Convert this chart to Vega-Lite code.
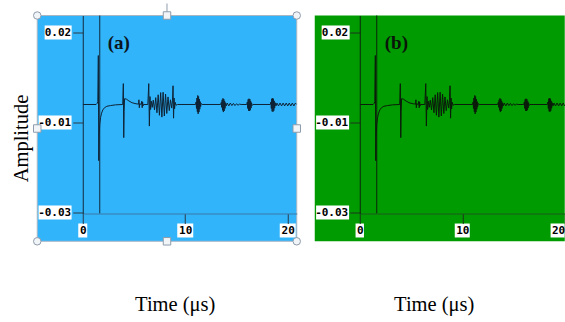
{
  "$schema": "https://vega.github.io/schema/vega-lite/v6.json",
  "background": "white",
  "padding": {"left": 11.75, "top": 2.5, "right": 0, "bottom": 0},
  "spacing": 63,
  "bounds": "flush",
  "config": {"view": {"stroke": null}},
  "datasets": {
    "wave": [
      {"t": 0, "amp": 0}, {"t": 1.3, "amp": 0}, {"t": 1.4, "amp": 0.0003}, {"t": 1.47, "amp": 0.0008},
      {"t": 1.52, "amp": 0.0136}, {"t": 1.56, "amp": -0.0156}, {"t": 1.6, "amp": -0.0085}, {"t": 1.66, "amp": -0.0055},
      {"t": 1.74, "amp": -0.0036}, {"t": 1.84, "amp": -0.0024}, {"t": 1.96, "amp": -0.0015}, {"t": 2.12, "amp": -0.0009},
      {"t": 2.35, "amp": -0.0005}, {"t": 2.7, "amp": -0.0003}, {"t": 3.2, "amp": -0.0001}, {"t": 3.9, "amp": 0},
      {"t": 3.96, "amp": 0.0058}, {"t": 4.0, "amp": -0.0092}, {"t": 4.04, "amp": -0.002}, {"t": 4.08, "amp": 0.0016},
      {"t": 4.25, "amp": 0.0015}, {"t": 4.5, "amp": 0.001}, {"t": 4.8, "amp": 0.0005}, {"t": 5.2, "amp": 0.0002},
      {"t": 5.45, "amp": 0.0001}, {"t": 5.48, "amp": 0.0013}, {"t": 5.52, "amp": -0.0009}, {"t": 5.56, "amp": 0.0002},
      {"t": 5.7, "amp": 0}, {"t": 5.76, "amp": 0.0009}, {"t": 5.8, "amp": -0.0009}, {"t": 5.84, "amp": 0.0007},
      {"t": 5.88, "amp": -0.0004}, {"t": 5.94, "amp": 0}, {"t": 6.35, "amp": 0}, {"t": 6.44, "amp": 0.0058},
      {"t": 6.5, "amp": -0.006}, {"t": 6.56, "amp": 0.0022}, {"t": 6.62, "amp": -0.0014}, {"t": 6.7, "amp": 0.0009},
      {"t": 6.78, "amp": -0.0008}, {"t": 6.88, "amp": 0.0012}, {"t": 7.0, "amp": -0.0015}, {"t": 7.12, "amp": 0.0019},
      {"t": 7.24, "amp": -0.0023}, {"t": 7.36, "amp": 0.0027}, {"t": 7.48, "amp": -0.003}, {"t": 7.6, "amp": 0.0033},
      {"t": 7.72, "amp": -0.0035}, {"t": 7.84, "amp": 0.0034}, {"t": 7.96, "amp": -0.0032}, {"t": 8.08, "amp": 0.0029},
      {"t": 8.2, "amp": -0.0025}, {"t": 8.32, "amp": 0.0021}, {"t": 8.44, "amp": -0.0017}, {"t": 8.56, "amp": 0.0013},
      {"t": 8.68, "amp": -0.001}, {"t": 8.76, "amp": 0.0012}, {"t": 8.81, "amp": 0.0052}, {"t": 8.86, "amp": -0.0038},
      {"t": 8.91, "amp": 0.0018}, {"t": 8.96, "amp": -0.0012}, {"t": 9.02, "amp": 0.0006}, {"t": 9.1, "amp": -0.0002},
      {"t": 9.25, "amp": 0},
      {"t": 11.0, "amp": 0}, {"t": 11.06, "amp": 0.0007}, {"t": 11.1, "amp": -0.0011}, {"t": 11.14, "amp": 0.0018},
      {"t": 11.18, "amp": -0.002}, {"t": 11.22, "amp": 0.0025}, {"t": 11.26, "amp": -0.0026}, {"t": 11.3, "amp": 0.0022},
      {"t": 11.34, "amp": -0.0021}, {"t": 11.38, "amp": 0.0015}, {"t": 11.42, "amp": -0.0013}, {"t": 11.46, "amp": 0.0008},
      {"t": 11.5, "amp": -0.0006}, {"t": 11.56, "amp": 0.0003}, {"t": 11.65, "amp": 0},
      {"t": 13.45, "amp": 0}, {"t": 13.52, "amp": 0.0006}, {"t": 13.56, "amp": -0.0008}, {"t": 13.6, "amp": 0.0013},
      {"t": 13.64, "amp": -0.0016}, {"t": 13.68, "amp": 0.0017}, {"t": 13.72, "amp": -0.0021}, {"t": 13.76, "amp": 0.0015},
      {"t": 13.8, "amp": -0.0018}, {"t": 13.84, "amp": 0.001}, {"t": 13.88, "amp": -0.0011}, {"t": 13.94, "amp": 0.0005},
      {"t": 14.0, "amp": -0.0004}, {"t": 14.1, "amp": 0.0004}, {"t": 14.25, "amp": -0.0004}, {"t": 14.4, "amp": 0.0004},
      {"t": 14.55, "amp": -0.0003}, {"t": 14.7, "amp": 0.0003}, {"t": 14.85, "amp": -0.0003}, {"t": 15.0, "amp": 0.0002},
      {"t": 15.15, "amp": -0.0002}, {"t": 15.3, "amp": 0.0001}, {"t": 15.45, "amp": 0},
      {"t": 16.0, "amp": 0}, {"t": 16.06, "amp": 0.0007}, {"t": 16.1, "amp": -0.0011}, {"t": 16.14, "amp": 0.0014},
      {"t": 16.18, "amp": -0.0017}, {"t": 16.22, "amp": 0.0016}, {"t": 16.26, "amp": -0.0018}, {"t": 16.3, "amp": 0.0015},
      {"t": 16.34, "amp": -0.0016}, {"t": 16.38, "amp": 0.001}, {"t": 16.42, "amp": -0.001}, {"t": 16.47, "amp": 0.0005},
      {"t": 16.52, "amp": -0.0003}, {"t": 16.6, "amp": 0},
      {"t": 18.3, "amp": 0}, {"t": 18.36, "amp": 0.0007}, {"t": 18.4, "amp": -0.0011}, {"t": 18.44, "amp": 0.0016},
      {"t": 18.48, "amp": -0.0019}, {"t": 18.52, "amp": 0.0017}, {"t": 18.56, "amp": -0.002}, {"t": 18.6, "amp": 0.0016},
      {"t": 18.64, "amp": -0.0017}, {"t": 18.68, "amp": 0.001}, {"t": 18.72, "amp": -0.001}, {"t": 18.78, "amp": 0.0005},
      {"t": 18.85, "amp": -0.0004}, {"t": 18.95, "amp": 0.0004}, {"t": 19.1, "amp": -0.0004}, {"t": 19.25, "amp": 0.0004},
      {"t": 19.4, "amp": -0.0004}, {"t": 19.55, "amp": 0.0004}, {"t": 19.7, "amp": -0.0004}, {"t": 19.85, "amp": 0.0004},
      {"t": 20.0, "amp": -0.0004}, {"t": 20.15, "amp": 0.0004}, {"t": 20.3, "amp": -0.0004}, {"t": 20.45, "amp": 0.0004},
      {"t": 20.6, "amp": -0.0004}, {"t": 20.75, "amp": 0.0004}, {"t": 20.88, "amp": 0}
    ],
    "one": [{}],
    "yticks": [{"v": 0.02}, {"v": -0.005}, {"v": -0.03}],
    "xticks": [{"t": 0}, {"t": 10}, {"t": 20}],
    "handles": [
      {"hx": -4.44, "hy": 0.02472, "kind": "circle"}, {"hx": 20.88, "hy": 0.02472, "kind": "circle"},
      {"hx": -4.44, "hy": -0.038, "kind": "circle"}, {"hx": 20.88, "hy": -0.038, "kind": "circle"},
      {"hx": 8.22, "hy": 0.02472, "kind": "square"}, {"hx": 8.22, "hy": -0.038, "kind": "square"},
      {"hx": -4.44, "hy": -0.00667, "kind": "square"}, {"hx": 20.88, "hy": -0.00667, "kind": "square"}
    ]
  },
  "hconcat": [
    {
      "width": 214,
      "height": 198,
      "layer": [
        {
          "data": {"name": "one"},
          "mark": {"type": "rect", "color": "#32b4fa", "stroke": "#a9b6c2", "strokeWidth": 1, "clip": false},
          "encoding": {
            "x": {"datum": -4.44, "type": "quantitative"},
            "x2": {"datum": 20.88},
            "y": {"datum": -0.038, "type": "quantitative"},
            "y2": {"datum": 0.02472}
          }
        },
        {
          "data": {"name": "yticks"},
          "transform": [{"filter": "datum.v < 0"}],
          "mark": {"type": "point", "shape": "M-1,-0.424H1V0.424H-1Z", "size": 1089, "filled": true, "color": "#ffffff", "opacity": 1, "clip": false},
          "encoding": {"x": {"datum": -2.7, "type": "quantitative"}, "y": {"field": "v", "type": "quantitative", "title": "Amplitude"}}
        },
        {
          "data": {"name": "yticks"},
          "transform": [{"filter": "datum.v > 0"}],
          "mark": {"type": "point", "shape": "M-1,-0.519H1V0.519H-1Z", "size": 729, "filled": true, "color": "#ffffff", "opacity": 1, "clip": false},
          "encoding": {"x": {"datum": -2.4, "type": "quantitative"}, "y": {"field": "v", "type": "quantitative", "title": "Amplitude"}}
        },
        {
          "data": {"name": "xticks"},
          "transform": [{"filter": "datum.t == 0"}],
          "mark": {"type": "point", "shape": "M-0.643,-1H0.643V1H-0.643Z", "size": 196, "filled": true, "color": "#ffffff", "opacity": 1, "clip": false},
          "encoding": {"x": {"field": "t", "type": "quantitative", "title": "Time (μs)"}, "y": {"datum": -0.035, "type": "quantitative"}}
        },
        {
          "data": {"name": "xticks"},
          "transform": [{"filter": "datum.t > 0"}],
          "mark": {"type": "point", "shape": "M-1,-0.875H1V0.875H-1Z", "size": 256, "filled": true, "color": "#ffffff", "opacity": 1, "clip": false},
          "encoding": {"x": {"field": "t", "type": "quantitative", "title": "Time (μs)"}, "y": {"datum": -0.035, "type": "quantitative"}}
        },
        {
          "data": {"name": "one"},
          "mark": {"type": "rule", "color": "#12293b", "strokeWidth": 1},
          "encoding": {"x": {"datum": 1.66, "type": "quantitative"}}
        },
        {
          "data": {"name": "wave"},
          "mark": {"type": "line", "color": "#0f2335", "strokeWidth": 1, "clip": true},
          "encoding": {
            "x": {
              "field": "t", "type": "quantitative", "title": "Time (μs)",
              "scale": {"domain": [0, 20.88], "nice": false, "zero": false},
              "axis": {
                "values": [0, 10, 20], "format": "d", "labelFlush": false,
                "tickSize": 10, "labelPadding": 7, "labelBaseline": "middle",
                "labelFont": "DejaVu Sans Mono", "labelFontSize": 11, "labelFontWeight": "bold", "labelColor": "#000000",
                "tickColor": "#2a3a48", "domainColor": "#3a79a5", "grid": false,
                "title": "Time (μs)", "titleFont": "Liberation Serif", "titleFontSize": 20.5, "titleFontWeight": "normal",
                "titleColor": "#000000", "titleX": 92, "titleY": 91, "titleBaseline": "middle", "titleAlign": "center",
                "zindex": 1
              }
            },
            "y": {
              "field": "amp", "type": "quantitative", "title": "Amplitude",
              "scale": {"domain": [-0.03028, 0.02472], "nice": false, "zero": false},
              "axis": {
                "values": [0.02, -0.005, -0.03],
                "labelExpr": "replace(format(datum.value, '.2f'), '\u2212', '-')",
                "tickSize": 10, "labelPadding": 2,
                "labelFont": "DejaVu Sans Mono", "labelFontSize": 11, "labelFontWeight": "bold", "labelColor": "#000000",
                "tickColor": "#2a3a48", "domainColor": "#15293a", "grid": false,
                "title": "Amplitude", "titleFont": "Liberation Serif", "titleFontSize": 20.5, "titleFontWeight": "normal",
                "titleColor": "#000000", "titleX": -61, "titleY": 122.5, "titleBaseline": "middle", "titleAlign": "center", "titleAngle": 270,
                "zindex": 1
              }
            }
          }
        },
        {
          "data": {"name": "one"},
          "mark": {"type": "text", "text": "(a)", "font": "Liberation Serif", "fontSize": 19, "fontWeight": "bold", "color": "#0a1520", "align": "left", "baseline": "middle"},
          "encoding": {"x": {"datum": 2.44, "type": "quantitative"}, "y": {"datum": 0.01708, "type": "quantitative"}}
        },
        {
          "data": {"name": "one"},
          "mark": {"type": "rule", "color": "#8e9cab", "strokeWidth": 1, "clip": false},
          "encoding": {"x": {"datum": 8.22, "type": "quantitative"}, "y": {"datum": 0.02472, "type": "quantitative"}, "y2": {"datum": 0.02805}}
        },
        {
          "data": {"name": "handles"},
          "mark": {"type": "point", "filled": true, "color": "#f2f5f8", "stroke": "#8e9cab", "strokeWidth": 1, "opacity": 1, "size": 56, "clip": false},
          "encoding": {
            "x": {"field": "hx", "type": "quantitative", "title": "Time (μs)"},
            "y": {"field": "hy", "type": "quantitative", "title": "Amplitude"},
            "shape": {"field": "kind", "type": "nominal", "scale": {"domain": ["circle", "square"], "range": ["circle", "square"]}, "legend": null}
          }
        }
      ]
    },
    {
      "width": 205,
      "height": 198,
      "layer": [
        {
          "data": {"name": "one"},
          "mark": {"type": "rect", "color": "#009b00", "clip": false},
          "encoding": {
            "x": {"datum": -4.39, "type": "quantitative"},
            "x2": {"datum": 20},
            "y": {"datum": -0.038, "type": "quantitative"},
            "y2": {"datum": 0.02472}
          }
        },
        {
          "data": {"name": "yticks"},
          "transform": [{"filter": "datum.v < 0"}],
          "mark": {"type": "point", "shape": "M-1,-0.424H1V0.424H-1Z", "size": 1089, "filled": true, "color": "#ffffff", "opacity": 1, "clip": false},
          "encoding": {"x": {"datum": -2.65, "type": "quantitative"}, "y": {"field": "v", "type": "quantitative", "title": null}}
        },
        {
          "data": {"name": "yticks"},
          "transform": [{"filter": "datum.v > 0"}],
          "mark": {"type": "point", "shape": "M-1,-0.5H1V0.5H-1Z", "size": 784, "filled": true, "color": "#ffffff", "opacity": 1, "clip": false},
          "encoding": {"x": {"datum": -2.35, "type": "quantitative"}, "y": {"field": "v", "type": "quantitative", "title": null}}
        },
        {
          "data": {"name": "xticks"},
          "transform": [{"filter": "datum.t == 0"}],
          "mark": {"type": "point", "shape": "M-0.6,-1H0.6V1H-0.6Z", "size": 196, "filled": true, "color": "#ffffff", "opacity": 1, "clip": false},
          "encoding": {"x": {"field": "t", "type": "quantitative", "title": "Time (μs)"}, "y": {"datum": -0.035, "type": "quantitative"}}
        },
        {
          "data": {"name": "xticks"},
          "transform": [{"filter": "datum.t == 10"}],
          "mark": {"type": "point", "shape": "M-1,-0.93H1V0.93H-1Z", "size": 225, "filled": true, "color": "#ffffff", "opacity": 1, "clip": false},
          "encoding": {"x": {"field": "t", "type": "quantitative", "title": "Time (μs)"}, "y": {"datum": -0.035, "type": "quantitative"}}
        },
        {
          "data": {"name": "one"},
          "mark": {"type": "point", "shape": "square", "size": 196, "filled": true, "color": "#ffffff", "opacity": 1, "clip": false},
          "encoding": {"x": {"datum": 19.3, "type": "quantitative"}, "y": {"datum": -0.035, "type": "quantitative"}}
        },
        {
          "data": {"name": "one"},
          "mark": {"type": "rule", "color": "#0d220d", "strokeWidth": 1},
          "encoding": {"x": {"datum": 1.66, "type": "quantitative"}}
        },
        {
          "data": {"name": "wave"},
          "mark": {"type": "line", "color": "#0b1c0b", "strokeWidth": 1, "clip": true},
          "encoding": {
            "x": {
              "field": "t", "type": "quantitative", "title": "Time (μs)",
              "scale": {"domain": [0, 20], "nice": false, "zero": false},
              "axis": {
                "values": [0, 10, 20], "format": "d", "labelFlush": false,
                "labelAlign": {"condition": {"test": "datum.value == 20", "value": "right"}, "value": "center"},
                "tickSize": 10, "labelPadding": 7, "labelBaseline": "middle",
                "labelFont": "DejaVu Sans Mono", "labelFontSize": 11, "labelFontWeight": "bold", "labelColor": "#000000",
                "tickColor": "#1d351d", "domainColor": "#1d5a1d", "grid": false,
                "title": "Time (μs)", "titleFont": "Liberation Serif", "titleFontSize": 20.5, "titleFontWeight": "normal",
                "titleColor": "#000000", "titleX": 74, "titleY": 91, "titleBaseline": "middle", "titleAlign": "center",
                "zindex": 1
              }
            },
            "y": {
              "field": "amp", "type": "quantitative", "title": null,
              "scale": {"domain": [-0.03028, 0.02472], "nice": false, "zero": false},
              "axis": {
                "values": [0.02, -0.005, -0.03],
                "labelExpr": "replace(format(datum.value, '.2f'), '\u2212', '-')",
                "tickSize": 10, "labelPadding": 2,
                "labelFont": "DejaVu Sans Mono", "labelFontSize": 11, "labelFontWeight": "bold", "labelColor": "#000000",
                "tickColor": "#1d351d", "domainColor": "#0f240f", "grid": false,
                "title": null, "zindex": 1
              }
            }
          }
        },
        {
          "data": {"name": "one"},
          "mark": {"type": "text", "text": "(b)", "font": "Liberation Serif", "fontSize": 19, "fontWeight": "bold", "color": "#0a140a", "align": "left", "baseline": "middle"},
          "encoding": {"x": {"datum": 2.44, "type": "quantitative"}, "y": {"datum": 0.01708, "type": "quantitative"}}
        }
      ]
    }
  ]
}
